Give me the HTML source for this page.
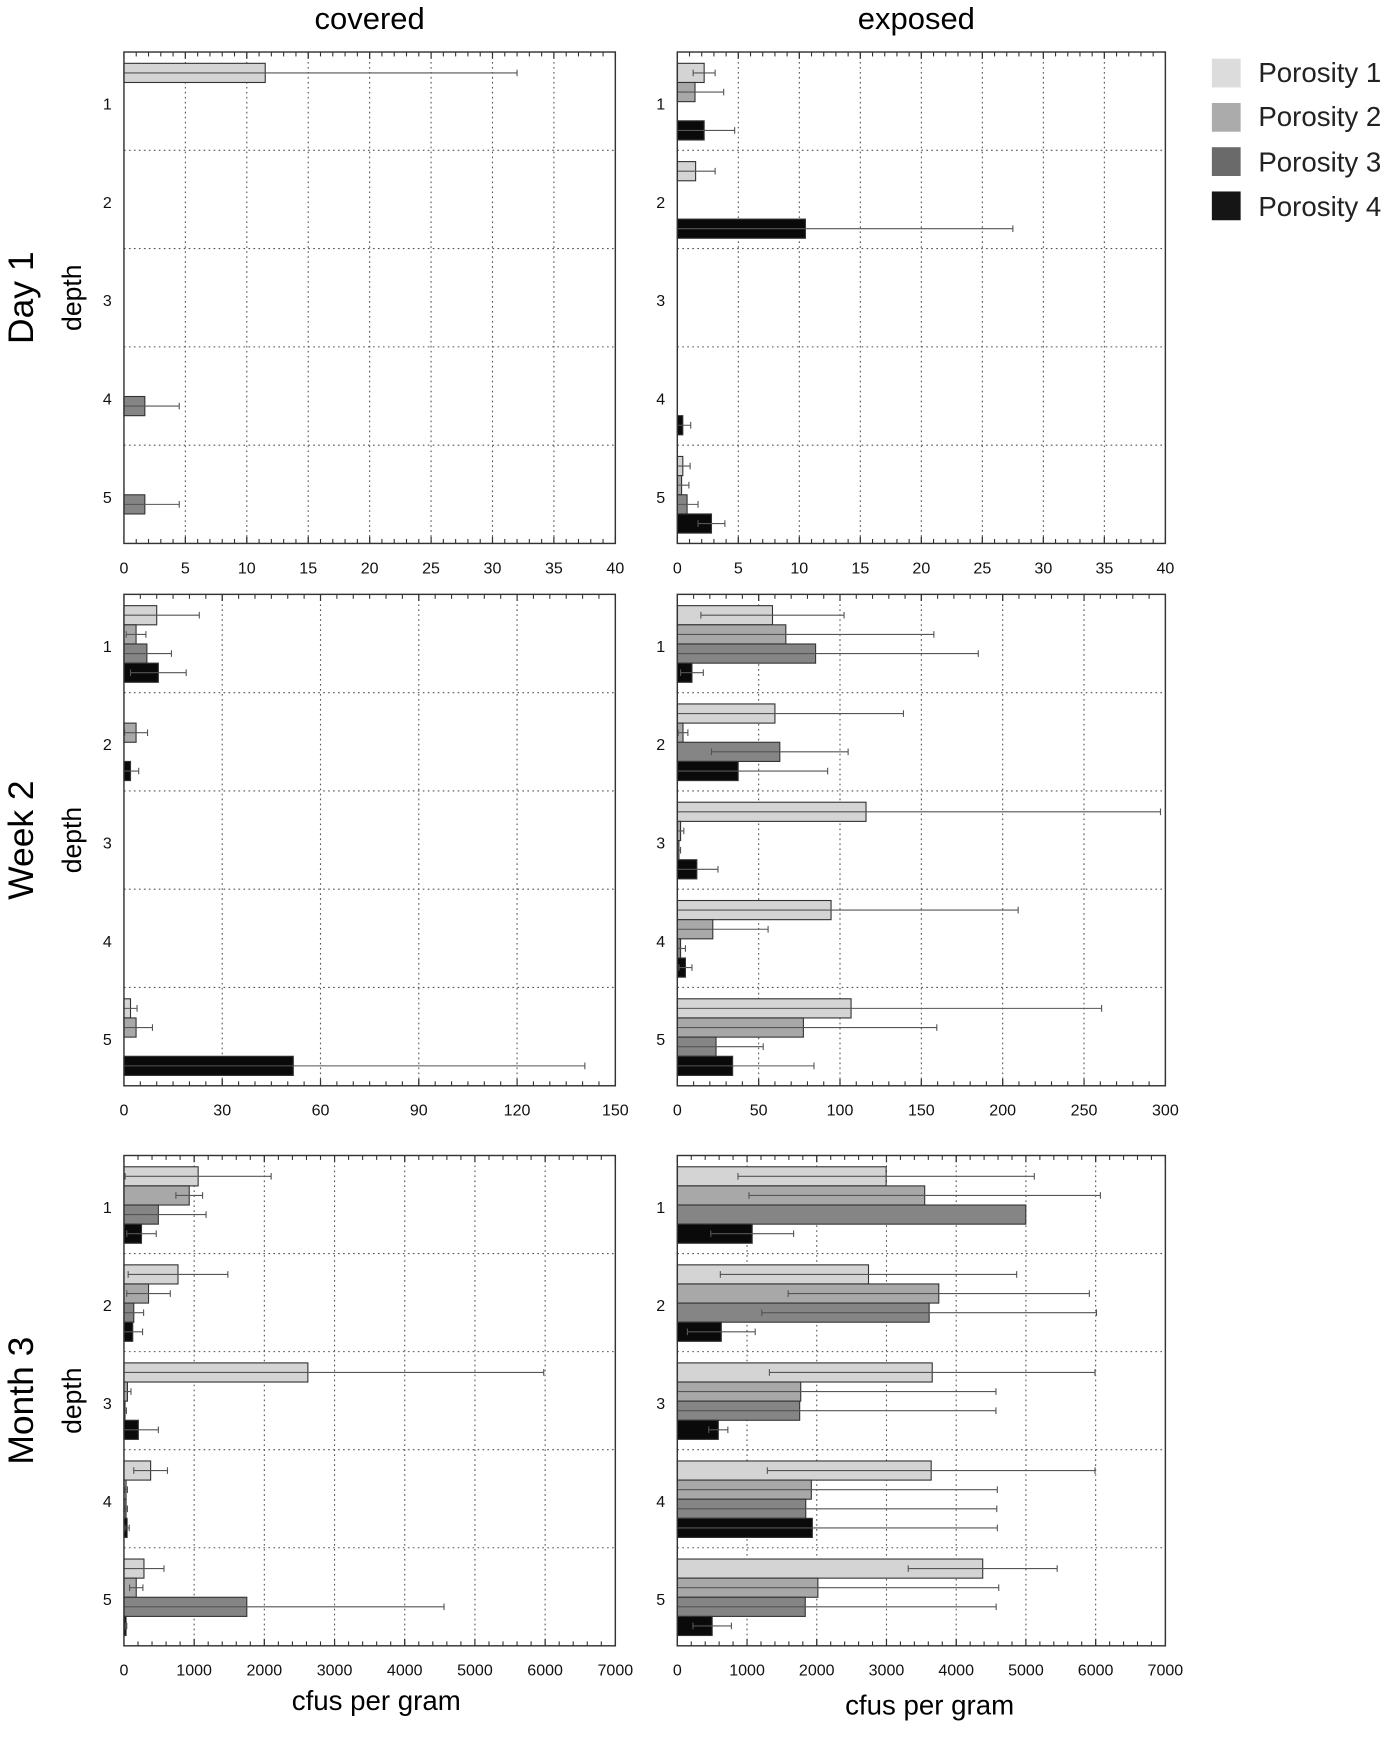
<!DOCTYPE html>
<html><head><meta charset="utf-8"><style>
html,body{margin:0;padding:0;background:#fff;}
svg{display:block;font-family:"Liberation Sans",Arial,sans-serif;}
</style></head><body>
<svg id="chart" width="1400" height="1741" viewBox="0 0 1265 1573" preserveAspectRatio="none" xmlns="http://www.w3.org/2000/svg">
<text x="334" y="26" font-size="28" text-anchor="middle">covered</text>
<text x="828" y="26" font-size="28" text-anchor="middle">exposed</text>
<g>
<rect x="1095" y="53" width="26" height="26" fill="#dcdcdc"/>
<text x="1137" y="74" font-size="25" fill="#222">Porosity 1</text>
<rect x="1095" y="93" width="26" height="26" fill="#ababab"/>
<text x="1137" y="114" font-size="25" fill="#222">Porosity 2</text>
<rect x="1095" y="133" width="26" height="26" fill="#6a6a6a"/>
<text x="1137" y="155" font-size="25" fill="#222">Porosity 3</text>
<rect x="1095" y="173" width="26" height="26" fill="#151515"/>
<text x="1137" y="195" font-size="25" fill="#222">Porosity 4</text>
</g>
<text x="340" y="1545" font-size="25" text-anchor="middle">cfus per gram</text>
<text x="840" y="1549" font-size="25" text-anchor="middle">cfus per gram</text>
</svg>
<script>
const depths = ["1","2","3","4","5"];
const rowTitles = ["Day 1","Week 2","Month 3"];
const day1CoveredVals = [[11.5,0,0,0],[0,0,0,0],[0,0,0,0],[0,0,1.7,0],[0,0,1.7,0]];
const day1CoveredSd   = [[20.5,0,0,0],[0,0,0,0],[0,0,0,0],[0,0,2.8,0],[0,0,2.8,0]];
const day1ExposedVals = [[2.2,1.45,0,2.2],[1.5,0,0,10.5],[0,0,0,0],[0,0,0,0.45],[0.45,0.35,0.8,2.8]];
const day1ExposedSd   = [[0.9,2.35,0,2.5],[1.6,0,0,17],[0,0,0,0],[0,0,0,0.65],[0.6,0.6,0.9,1.1]];
const week2CoveredVals = [[10,3.7,7,10.5],[0,3.7,0,2],[0,0,0,0],[0,0,0,0],[2,3.7,0,51.7]];
const week2CoveredSd   = [[13,3,7.5,8.5],[0,3.5,0,2.5],[0,0,0,0],[0,0,0,0],[2,5,0,89]];
const week2ExposedVals = [[58.5,66.7,85,9],[60,3.5,63,37.4],[116,2,1,12],[94.5,21.8,2,5],[106.8,77.5,23.8,34]];
const week2ExposedSd   = [[44,91,100,7],[79,3,42,55],[181,2,1,13],[115,34,3,4],[154,82,29,50]];
const month3CoveredVals = [[1057,930,490,250],[770,350,140,125],[2620,50,15,205],[380,30,30,45],[285,175,1750,30]];
const month3CoveredSd   = [[1040,190,680,210],[710,310,140,140],[3360,50,20,285],[240,20,20,30],[285,95,2810,10]];
const month3ExposedVals = [[2995,3548,4998,1074],[2742,3750,3612,631],[3656,1770,1755,588],[3641,1922,1842,1937],[4380,2016,1835,500]];
const month3ExposedSd   = [[2125,2520,0,594],[2125,2160,2400,486],[2335,2800,2815,137],[2350,2668,2740,2653],[1068,2594,2738,276]];
const ticksDay1 = [0,5,10,15,20,25,30,35,40];
const ticksWeek2Covered = [0,30,60,90,120,150];
const ticksWeek2Exposed = [0,50,100,150,200,250,300];
const ticksMonth3 = [0,1000,2000,3000,4000,5000,6000,7000];

const NS="http://www.w3.org/2000/svg";
const svg=document.getElementById('chart');
const fills=["#d4d4d4","#a8a8a8","#858585","#0a0a0a"];
function mk(tag,attrs,parent){const e=document.createElementNS(NS,tag);for(const k in attrs)e.setAttribute(k,attrs[k]);(parent||svg).appendChild(e);return e;}

const panels=[
 {row:0,col:'covered',x0:112,x1:556,y0:47,y1:491,vals:day1CoveredVals,sd:day1CoveredSd,ticks:ticksDay1,minor:5},
 {row:0,col:'exposed',x0:612,x1:1053,y0:47,y1:491,vals:day1ExposedVals,sd:day1ExposedSd,ticks:ticksDay1,minor:5},
 {row:1,col:'covered',x0:112,x1:556,y0:537,y1:981,vals:week2CoveredVals,sd:week2CoveredSd,ticks:ticksWeek2Covered,minor:6},
 {row:1,col:'exposed',x0:612,x1:1053,y0:537,y1:981,vals:week2ExposedVals,sd:week2ExposedSd,ticks:ticksWeek2Exposed,minor:5},
 {row:2,col:'covered',x0:112,x1:556,y0:1044,y1:1487,vals:month3CoveredVals,sd:month3CoveredSd,ticks:ticksMonth3,minor:5},
 {row:2,col:'exposed',x0:612,x1:1053,y0:1044,y1:1487,vals:month3ExposedVals,sd:month3ExposedSd,ticks:ticksMonth3,minor:5}
];

rowTitles.forEach((t,i)=>{
  const cy=(panels[i*2].y0+panels[i*2].y1)/2;
  const a=mk('text',{x:0,y:0,'font-size':32,'text-anchor':'middle',transform:`translate(30,${cy}) rotate(-90)`});
  a.textContent=t;
  
  
  const d=mk('text',{x:0,y:0,'font-size':24,'text-anchor':'middle',transform:`translate(73,${cy}) rotate(-90)`});
  d.textContent='depth';
  
  
});

panels.forEach(p=>{
  const g=mk('g',{});
  
  
  const max=p.ticks[p.ticks.length-1];
  const xs=v=>p.x0+(p.x1-p.x0)*Math.min(v,max)/max;
  const slot=(p.y1-p.y0)/depths.length;
  p.ticks.forEach((t,i)=>{
    const x=xs(t);
    if(i>0&&i<p.ticks.length-1){const l=mk('line',{x1:x,x2:x,y1:p.y0,y2:p.y1,stroke:'#555','stroke-width':1,'stroke-dasharray':'1.5,3'},g);}
    const tl=mk('text',{x:x,y:p.y1+27,'font-size':14.5,'text-anchor':'middle',fill:'#111'},g);
    tl.textContent=t;
    
    
    if(i<p.ticks.length-1){
      const step=(xs(p.ticks[i+1])-x)/p.minor;
      for(let k=0;k<=p.minor;k++){const mx=x+k*step;const len=(k===0||k===p.minor)?6:4;
        mk('line',{x1:mx,x2:mx,y1:p.y1,y2:p.y1-len,stroke:'#333','stroke-width':1},g);
        mk('line',{x1:mx,x2:mx,y1:p.y0,y2:p.y0+len,stroke:'#333','stroke-width':1},g);}
    }
  });
  depths.forEach((d,di)=>{
    if(di>0){const y=p.y0+di*slot;const l=mk('line',{x1:p.x0,x2:p.x1,y1:y,y2:y,stroke:'#555','stroke-width':1,'stroke-dasharray':'1.5,3'},g);}
    const lab=mk('text',{x:p.x0-15,y:p.y0+di*slot+slot*0.53+5,'font-size':14.5,'text-anchor':'middle',fill:'#111'},g);
    lab.textContent=d;
    
    
    for(let pi=0;pi<4;pi++){
      const v=p.vals[di][pi], s=p.sd[di][pi];
      const by=p.y0+di*slot+slot*0.115+pi*slot*0.195, bh=slot*0.195;
      if(v>0){
        const r=mk('rect',{x:p.x0,y:by,width:xs(v)-p.x0,height:bh,fill:fills[pi],stroke:'#333','stroke-width':1},g);
        
        
      }
      if(s>0){
        const cy=by+bh/2, xa=xs(Math.max(0,v-s)), xb=xs(v+s);
        const e=mk('path',{d:`M${xa},${cy}H${xb}M${xb},${cy-3}V${cy+3}`+(v-s>0?`M${xa},${cy-3}V${cy+3}`:''),stroke:'#555','stroke-width':1,fill:'none'},g);
        
        
      }
    }
  });
  const fr=mk('rect',{x:p.x0,y:p.y0,width:p.x1-p.x0,height:p.y1-p.y0,fill:'none',stroke:'#333','stroke-width':1.3},g);
  
  
});
</script>
</body></html>
